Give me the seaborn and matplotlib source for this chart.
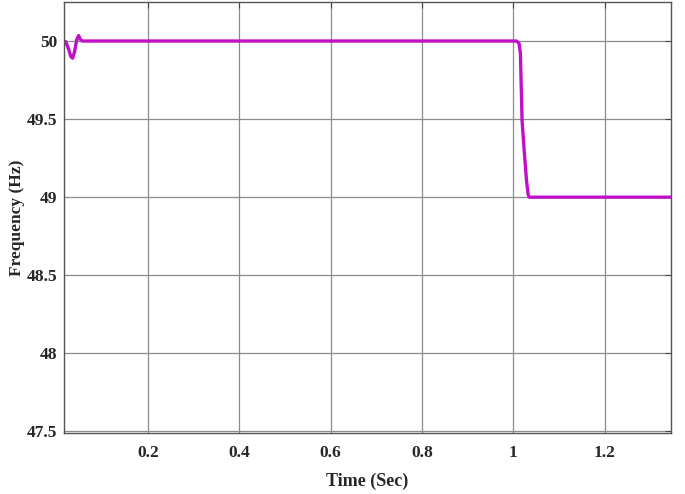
import numpy as np
import pandas as pd
import matplotlib
matplotlib.use("Agg")
import matplotlib.pyplot as plt
import seaborn as sns

# frequency response
time_sec = [0.016, 0.020, 0.026, 0.031, 0.035, 0.039, 0.044, 0.048, 0.052, 0.056,
            0.2, 0.6, 1.0, 1.0068, 1.0123, 1.0153, 1.0189, 1.0240, 1.0285, 1.0320,
            1.0342, 1.2, 1.345]
freq_hz = [50.0, 49.995, 49.95, 49.90, 49.89, 49.93, 50.01, 50.035, 50.01, 50.0,
           50.0, 50.0, 50.0, 50.0, 49.985, 49.92, 49.49, 49.28, 49.11, 49.02,
           49.0, 49.0, 49.0]

x_ticks = [0.2, 0.4, 0.6, 0.8, 1.0, 1.2]
x_tick_labels = ["0.2", "0.4", "0.6", "0.8", "1", "1.2"]
y_ticks = [47.5, 48, 48.5, 49, 49.5, 50]
y_tick_labels = ["47.5", "48", "48.5", "49", "49.5", "50"]

df = pd.DataFrame({"t": time_sec, "f": freq_hz})

sns.set_style("white")
plt.rcParams["font.family"] = ["Liberation Serif", "DejaVu Serif"]

fig = plt.figure(figsize=(6.85, 4.94), dpi=100)
ax = fig.add_axes([0.0934, 0.1235, 0.8862, 0.8725])

sns.lineplot(data=df, x="t", y="f", color="#C010C8", linewidth=2.4, ax=ax)

ax.set_xlim(0.016, 1.345)
ax.set_ylim(47.49, 50.25)
ax.set_xticks(x_ticks)
ax.set_xticklabels(x_tick_labels, fontweight="bold", fontsize=12.5)
ax.set_yticks(y_ticks)
ax.set_yticklabels(y_tick_labels, fontweight="bold", fontsize=12.5)
ax.grid(True, color="#8c8c8c", linewidth=0.9)
ax.tick_params(direction="in", length=4, color="#444444", top=True, right=True)
ax.tick_params(axis="x", pad=9)
ax.tick_params(axis="y", pad=5)
for s in ax.spines.values():
    s.set_color("#555555")
    s.set_linewidth(1.0)

ax.set_xlabel("Time (Sec)", fontweight="bold", fontsize=13, labelpad=8)
ax.set_ylabel("Frequency (Hz)", fontweight="bold", fontsize=12.5, labelpad=1)

fig.savefig("out.png", dpi=100)
